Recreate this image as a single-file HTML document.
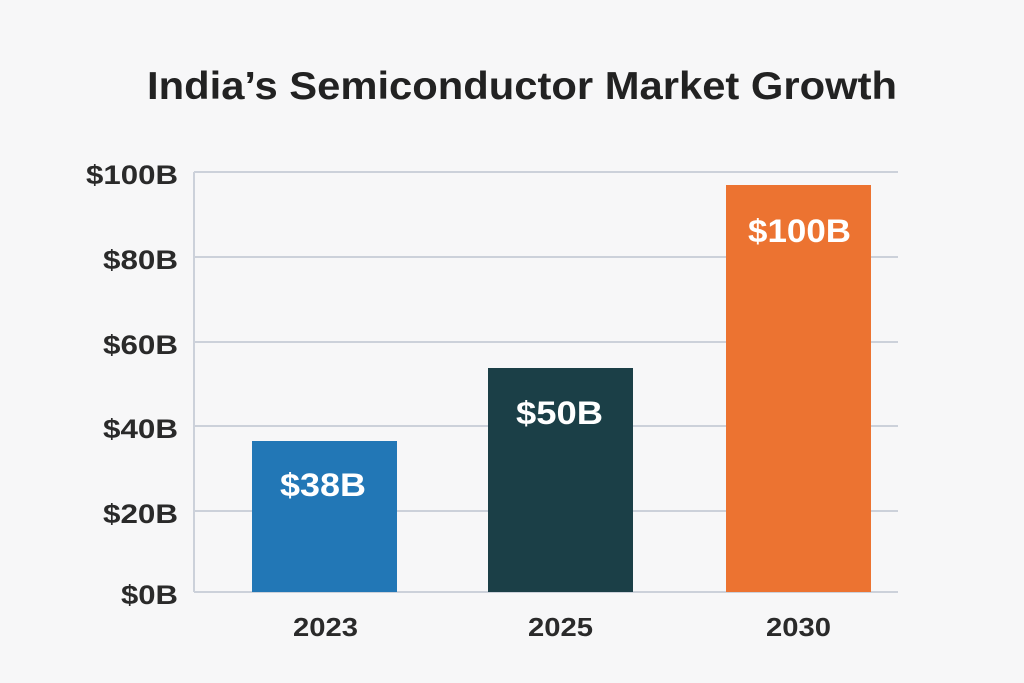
<!DOCTYPE html>
<html><head><style>
html,body{margin:0;padding:0;background:#f7f7f8;}
svg{display:block;}
text{font-family:"Liberation Sans",sans-serif;}
</style></head><body>
<svg width="1024" height="683" viewBox="0 0 1024 683">
<rect width="1024" height="683" fill="#f7f7f8"/>
<text x="147" y="99" font-size="39" font-weight="bold" fill="#222" textLength="750" lengthAdjust="spacingAndGlyphs">India’s Semiconductor Market Growth</text>
<g stroke="#ccd1da" stroke-width="2">
<line x1="194" y1="172" x2="898" y2="172"/>
<line x1="194" y1="257" x2="898" y2="257"/>
<line x1="194" y1="342" x2="898" y2="342"/>
<line x1="194" y1="426" x2="898" y2="426"/>
<line x1="194" y1="511" x2="898" y2="511"/>
<line x1="194" y1="592" x2="898" y2="592"/>
<line x1="194" y1="172" x2="194" y2="592"/>
</g>
<g font-size="27" font-weight="bold" fill="#2a2a2a">
<text x="86" y="184" textLength="92" lengthAdjust="spacingAndGlyphs">$100B</text>
<text x="103" y="269" textLength="75" lengthAdjust="spacingAndGlyphs">$80B</text>
<text x="103" y="354" textLength="75" lengthAdjust="spacingAndGlyphs">$60B</text>
<text x="103" y="438" textLength="75" lengthAdjust="spacingAndGlyphs">$40B</text>
<text x="103" y="523" textLength="75" lengthAdjust="spacingAndGlyphs">$20B</text>
<text x="121" y="604" textLength="57" lengthAdjust="spacingAndGlyphs">$0B</text>
</g>
<rect x="252" y="441" width="145" height="151" fill="#2277b6"/>
<rect x="488" y="368" width="145" height="224" fill="#1b3f47"/>
<rect x="726" y="185" width="145" height="407" fill="#ec7331"/>
<g font-size="32" font-weight="bold" fill="#fff">
<text x="280" y="496" textLength="86" lengthAdjust="spacingAndGlyphs">$38B</text>
<text x="516" y="424" textLength="87" lengthAdjust="spacingAndGlyphs">$50B</text>
<text x="748" y="242" textLength="103" lengthAdjust="spacingAndGlyphs">$100B</text>
</g>
<g font-size="26" font-weight="bold" fill="#2a2a2a">
<text x="293" y="636" textLength="65" lengthAdjust="spacingAndGlyphs">2023</text>
<text x="528" y="636" textLength="65" lengthAdjust="spacingAndGlyphs">2025</text>
<text x="766" y="636" textLength="65" lengthAdjust="spacingAndGlyphs">2030</text>
</g>
</svg>
</body></html>
